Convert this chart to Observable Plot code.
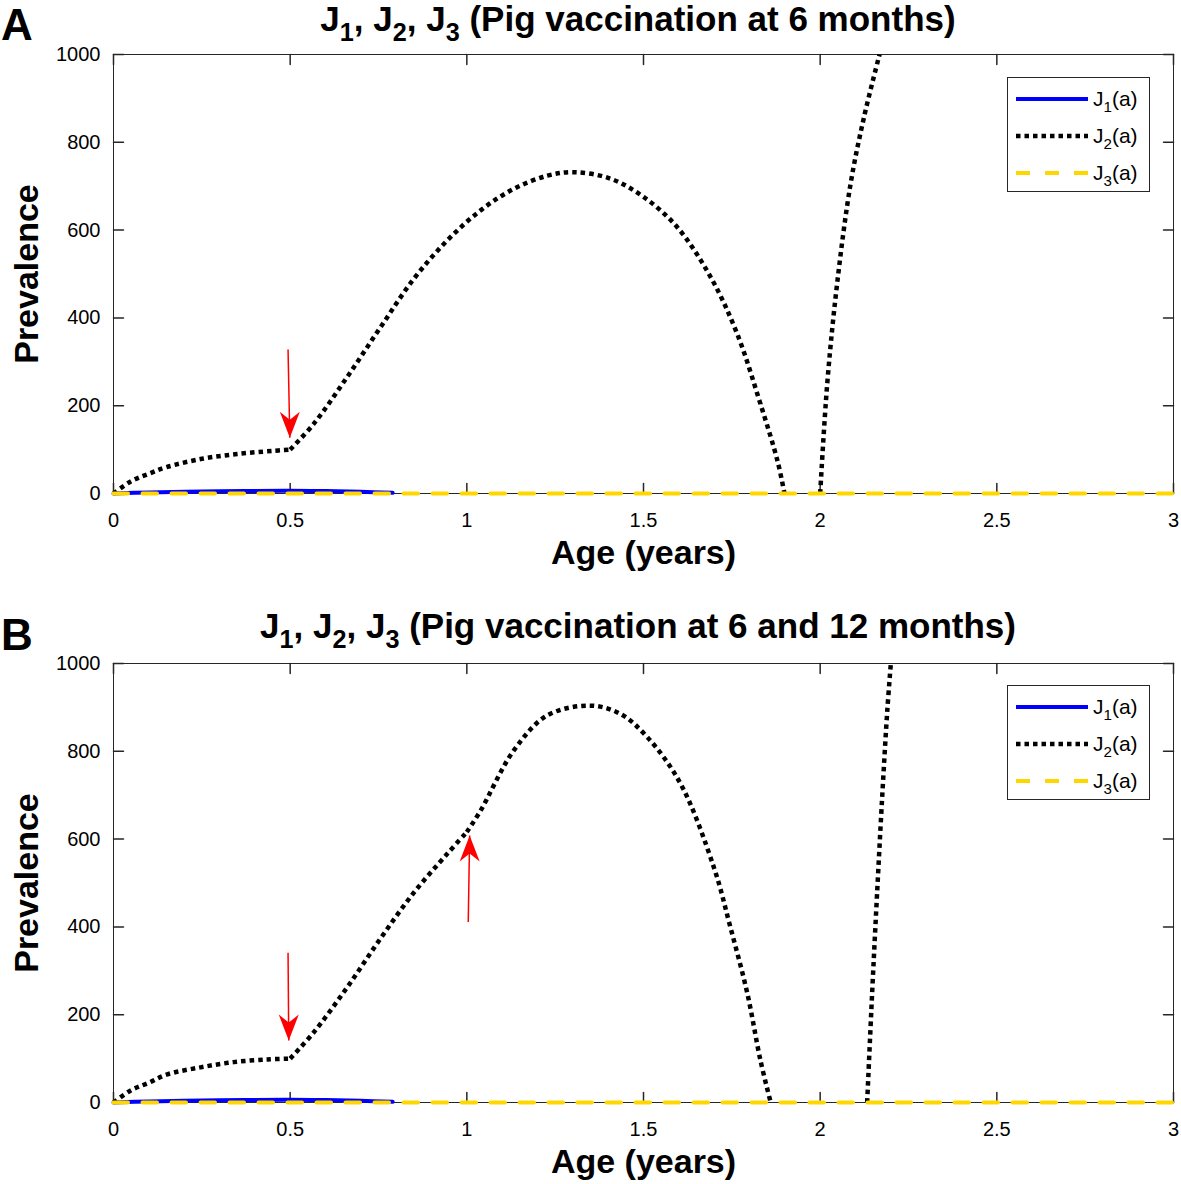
<!DOCTYPE html>
<html><head><meta charset="utf-8">
<script src="https://cdn.jsdelivr.net/npm/d3@7"></script>
<script src="https://cdn.jsdelivr.net/npm/@observablehq/plot@0.6"></script>
<style>
body{margin:0;background:#fff;}
#wrap{position:relative;width:1181px;height:1184px;font-family:"Liberation Sans",Arial,Helvetica,sans-serif;color:#000;overflow:hidden;background:#fff}
.panel{position:absolute;left:0}
.letter{position:absolute;left:1px;font-size:44px;font-weight:bold;line-height:50px}
.title{position:absolute;left:113px;width:1050px;text-align:center;font-size:35px;font-weight:bold;line-height:34px;white-space:nowrap}
.title sub,.leg sub{font-size:0.72em;vertical-align:-0.38em;line-height:0}
.legend{position:absolute;left:1007px;width:143px;height:115px;border:1px solid #262626;background:#fff;box-sizing:border-box}
.legend svg{position:absolute;left:0;top:0}
.leg{position:absolute;left:85px;font-size:21px;line-height:21px;white-space:nowrap}
</style>
</head><body>
<div id="wrap">
  <div class="panel" id="pA" style="top:0"></div>
  <div class="panel" id="pB" style="top:607px"></div>
  <div class="letter" style="top:0px">A</div>
  <div class="letter" style="top:610px">B</div>
  <div class="title" style="top:2px">J<sub>1</sub>, J<sub>2</sub>, J<sub>3</sub> (Pig vaccination at 6 months)</div>
  <div class="title" style="top:609px">J<sub>1</sub>, J<sub>2</sub>, J<sub>3</sub> (Pig vaccination at 6 and 12 months)</div>
  <div class="legend" id="legA" style="top:77px"></div>
  <div class="legend" id="legB" style="top:685px"></div>
</div>
<script>
// ---- tick values ----
const xTicks = [0, 0.5, 1, 1.5, 2, 2.5, 3];
const yTicks = [0, 200, 400, 600, 800, 1000];

// ---- Panel A (vaccination at 6 months) ----
const j1AgeA = [0, 0.1, 0.2, 0.3, 0.4, 0.5, 0.6, 0.7, 0.79];
const j1ValA = [0, 2.5, 4, 5, 5.8, 6, 5.5, 4, 1.5];
// J2 split at its kinks / gaps
const j2AgeA1 = [0, 0.05, 0.1, 0.15, 0.25, 0.35, 0.45, 0.5];
const j2ValA1 = [0, 28, 45, 60, 79, 90, 97, 100];
const j2AgeA2 = [0.5, 0.567, 0.661, 0.756, 0.85, 0.944, 1.039, 1.133, 1.228, 1.303, 1.407, 1.501, 1.595, 1.69, 1.765, 1.831, 1.879, 1.899];
const j2ValA2 = [100, 159, 265, 379, 489, 576, 645, 694, 724, 732, 717, 675, 607, 493, 364, 204, 75, 0];
const j2AgeA3 = [2.0, 2.02, 2.048, 2.086, 2.124, 2.168];
const j2ValA3 = [0, 250, 478, 705, 857, 1000];
const j3AgeA = [0, 3];
const j3ValA = [0, 0];

// ---- Panel B (vaccination at 6 and 12 months) ----
const j1AgeB = [0, 0.1, 0.2, 0.3, 0.4, 0.5, 0.6, 0.7, 0.79];
const j1ValB = [0, 2.5, 4, 5, 5.8, 6, 5.5, 4, 1.5];
const j2AgeB1 = [0, 0.05, 0.1, 0.152, 0.246, 0.34, 0.435, 0.5];
const j2ValB1 = [0, 28, 45, 64, 80, 92, 98, 100];
const j2AgeB2 = [0.5, 0.567, 0.661, 0.756, 0.85, 0.944, 1.0];
const j2ValB2 = [100, 160, 262, 374, 478, 566, 616];
const j2AgeB3 = [1.0, 1.039, 1.133, 1.228, 1.35, 1.435, 1.511, 1.605, 1.699, 1.746, 1.794, 1.831, 1.86];
const j2ValB3 = [616, 665, 802, 882, 904, 885, 832, 726, 536, 399, 248, 96, 0];
const j2AgeB4 = [2.133, 2.147, 2.161, 2.176, 2.19, 2.2];
const j2ValB4 = [0, 248, 475, 703, 893, 1000];
const j3AgeB = [0, 3];
const j3ValB = [0, 0];

// ---- red arrow annotations (start -> tip) ----
const arrowsA = [{x1: 0.494, y1: 328, x2: 0.499, y2: 127, rot: 180}];
const arrowsB = [
  {x1: 0.494, y1: 341, x2: 0.496, y2: 141, rot: 180},
  {x1: 1.004, y1: 411, x2: 1.008, y2: 608, rot: 0}
];

const zip = (a, v, z = 0) => a.map((d, i) => ({a: d, v: v[i], z}));
const segs = (...pairs) => pairs.flatMap(([a, v], k) => zip(a, v, k));

const head = {
  draw(ctx) {
    ctx.moveTo(0, 0);
    ctx.lineTo(10, 26);
    ctx.lineTo(0, 18);
    ctx.lineTo(-10, 26);
    ctx.closePath();
  }
};
const tickShape = {draw(ctx, l) { ctx.moveTo(0, 0); ctx.lineTo(0, -l); }};
const AX = "#262626";
const DOTS = "4.5,4";

function panel(j1, j2, j3, arrows, o) {
  return Plot.plot({
    width: 1181, height: o.height,
    marginLeft: 113, marginRight: 8, marginTop: o.mt, marginBottom: o.mb,
    x: {domain: [0, 3]},
    y: {domain: [0, 1000]},
    style: {fontFamily: '"Liberation Sans", Arial, sans-serif', fontSize: "20px", color: "#000", background: "#fff", overflow: "visible"},
    marks: [
      Plot.frame({stroke: AX, strokeWidth: 1}),
      // inward ticks on all four sides
      Plot.vector(xTicks, {x: d => d, frameAnchor: "bottom", length: 10, anchor: "start", shape: tickShape, stroke: AX}),
      Plot.vector(xTicks, {x: d => d, frameAnchor: "top", length: 10, anchor: "start", rotate: 180, shape: tickShape, stroke: AX}),
      Plot.vector(yTicks, {y: d => d, frameAnchor: "left", length: 10, anchor: "start", rotate: 90, shape: tickShape, stroke: AX}),
      Plot.vector(yTicks, {y: d => d, frameAnchor: "right", length: 10, anchor: "start", rotate: -90, shape: tickShape, stroke: AX}),
      Plot.axisX(xTicks, {anchor: "bottom", tickSize: 0, tickPadding: 19, tickFormat: d => String(d), label: null, fill: "#000"}),
      Plot.axisY(yTicks, {anchor: "left", tickSize: 0, tickPadding: 13, tickFormat: d => String(d), label: null, fill: "#000"}),
      Plot.text(["Age (years)"], {frameAnchor: "bottom", lineAnchor: "middle", textAnchor: "middle", dy: 60, fontSize: 34, fontWeight: "bold", fill: "#000"}),
      Plot.text(["Prevalence"], {frameAnchor: "left", lineAnchor: "middle", textAnchor: "middle", dx: -86, rotate: -90, fontSize: 34, fontWeight: "bold", fill: "#000"}),
      Plot.line(j1, {x: "a", y: "v", stroke: "#0000ff", strokeWidth: 4, curve: "catmull-rom"}),
      Plot.line(j2, {x: "a", y: "v", z: "z", stroke: "#000", strokeWidth: 4.5, strokeDasharray: DOTS, strokeLinecap: "butt", curve: "catmull-rom"}),
      Plot.line(j3, {x: "a", y: "v", stroke: "#ffd700", strokeWidth: 4, strokeDasharray: "14.5,14.5"}),
      Plot.link(arrows, {x1: "x1", y1: "y1", x2: "x2", y2: "y2", stroke: "#ff0000", strokeWidth: 1.5}),
      Plot.dot(arrows, {x: "x2", y: "y2", symbol: head, rotate: "rot", fill: "#ff0000", stroke: null})
    ]
  });
}

document.getElementById("pA").append(
  panel(zip(j1AgeA, j1ValA),
        segs([j2AgeA1, j2ValA1], [j2AgeA2, j2ValA2], [j2AgeA3, j2ValA3]),
        zip(j3AgeA, j3ValA), arrowsA, {height: 600, mt: 54, mb: 107})
);
document.getElementById("pB").append(
  panel(zip(j1AgeB, j1ValB),
        segs([j2AgeB1, j2ValB1], [j2AgeB2, j2ValB2], [j2AgeB3, j2ValB3], [j2AgeB4, j2ValB4]),
        zip(j3AgeB, j3ValB), arrowsB, {height: 577, mt: 56, mb: 82})
);

// ---- legends ----
const legendItems = [
  {name: "1", stroke: "#0000ff", dash: null, width: 4},
  {name: "2", stroke: "#000", dash: DOTS, width: 4.5},
  {name: "3", stroke: "#ffd700", dash: "14,15", width: 4}
];
const legY = [21, 58, 95];
for (const id of ["legA", "legB"]) {
  const box = document.getElementById(id);
  const svg = d3.create("svg").attr("width", 143).attr("height", 115);
  legendItems.forEach((it, i) => {
    svg.append("line").attr("x1", 8).attr("x2", 80).attr("y1", legY[i]).attr("y2", legY[i])
      .attr("stroke", it.stroke).attr("stroke-width", it.width)
      .attr("stroke-dasharray", it.dash);
    const t = document.createElement("div");
    t.className = "leg";
    t.style.top = (legY[i] - 11) + "px";
    t.innerHTML = "J<sub>" + it.name + "</sub>(a)";
    box.append(t);
  });
  box.prepend(svg.node());
}
</script>
</body></html>
